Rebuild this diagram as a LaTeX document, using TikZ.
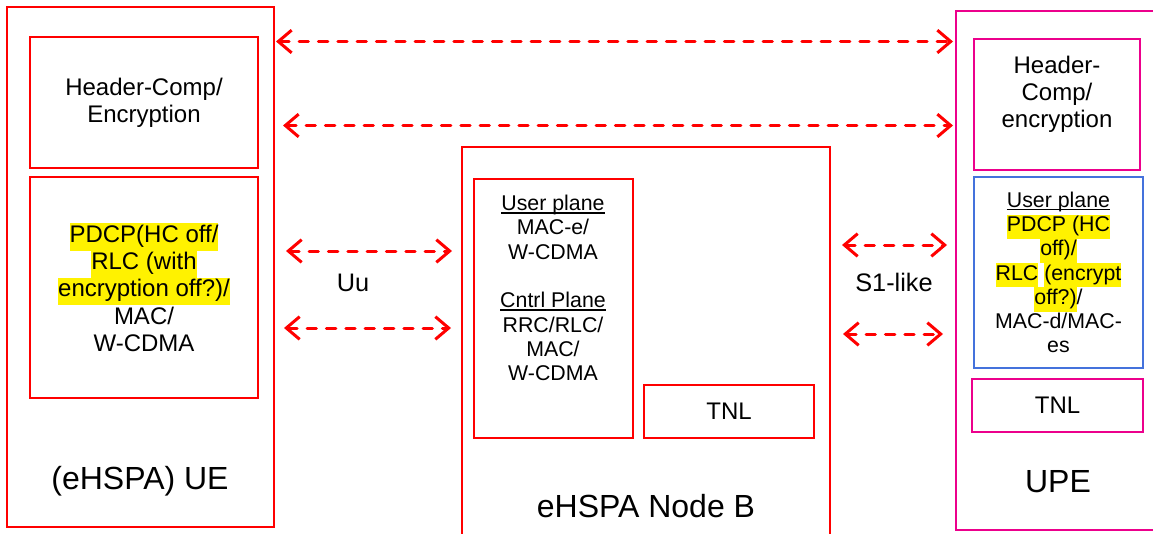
\documentclass[tikz,border=0pt]{standalone}
\usepackage{fontspec}
\setmainfont{Liberation Sans}
\usepackage{tikz}
\usetikzlibrary{arrows.meta}
\usepackage{xcolor}
\definecolor{upeblue}{RGB}{68,114,220}
\newcommand{\px}{0.75pt}
\newcommand{\hl}[1]{{\setlength{\fboxsep}{0pt}\colorbox{yellow}{\strut #1}}}
\newcommand{\undl}[1]{\setbox0\hbox{#1}\rlap{\rule[-2.2pt]{\wd0}{1pt}}\box0}
\tikzstyle{box}=[draw=red, line width=1.5pt, inner sep=0pt, outer sep=0pt, anchor=north west]
\tikzstyle{txt}=[align=center, font=\fontsize{18}{20.4}\selectfont]
\tikzstyle{smalltxt}=[align=center, font=\fontsize{16}{18.2}\selectfont]
\tikzstyle{bigtxt}=[font=\fontsize{24}{28}\selectfont]
\tikzstyle{iftxt}=[font=\fontsize{19}{22}\selectfont]
\tikzstyle{link}=[red, line width=2.25pt, line cap=round, dash pattern=on 7pt off 7.5pt, >={Straight Barb[length=10pt,width=17pt]}, <->]

\begin{document}
\begin{tikzpicture}[x=\px, y=-\px]
\path[use as bounding box, clip] (0,0) rectangle (1153,533);

\node[box, minimum width=267*\px, minimum height=520*\px] (ue) at (7,7) {};
\node[box, minimum width=368*\px, minimum height=420*\px] (nodeb) at (462,147) {};
\node[box, draw=magenta, minimum width=230*\px, minimum height=519*\px] (upe) at (956,11) {};

\node[box, txt, minimum width=228*\px, minimum height=131*\px] (uehc) at (30,37) {Header-Comp/\\Encryption};
\node[box, txt, minimum width=228*\px, minimum height=221*\px] (uepdcp) at (30,177)
  {\hl{PDCP(HC off/}\\\hl{RLC (with}\\\hl{encryption off?)/}\\MAC/\\W-CDMA};
\node[bigtxt, anchor=base] (uelbl) at (140,489) {(eHSPA) UE};

\node[box, minimum width=159*\px, minimum height=259*\px] (nbplane) at (474,179) {};
\node[smalltxt] (nbplanetxt) at (553,288)
  {\undl{User plane}\\MAC-e/\\W-CDMA\\[18.2pt]\undl{Cntrl Plane}\\RRC/RLC/\\MAC/\\W-CDMA};
\node[box, txt, minimum width=170*\px, minimum height=53*\px] (nbtnl) at (644,385) {TNL};
\node[bigtxt, anchor=base] (nblbl) at (646,517) {eHSPA Node B};

\node[box, draw=magenta, minimum width=166*\px, minimum height=131*\px] (upehc) at (974,39) {};
\node[txt] (upehctxt) at (1057,94) {Header-\\Comp/\\encryption};
\node[box, draw=upeblue, smalltxt, minimum width=169*\px, minimum height=191*\px] (upeplane) at (974,177)
  {\undl{User plane}\\\hl{PDCP (HC}\\\hl{off)/}\\\hl{RLC} \hl{(encrypt}\\\hl{off?)}/\\MAC-d/MAC-\\es};
\node[box, draw=magenta, txt, minimum width=171*\px, minimum height=53*\px] (upetnl) at (972,379) {TNL};
\node[bigtxt, anchor=base] (upelbl) at (1058,492) {UPE};

\node[iftxt] (uu) at (353,283) {Uu};
\node[iftxt] (s1) at (894,282) {S1-like};

\draw[link, shorten <=1.5pt, shorten >=2.25pt] (ue.east |- 0,41.5) -- (upe.west |- 0,41.5);
\draw[link, shorten <=6.75pt, shorten >=2.25pt] (ue.east |- 0,125.5) -- (upe.west |- 0,125.5);
\draw[link, shorten <=9pt, shorten >=7.5pt] (ue.east |- 0,251) -- (nodeb.west |- 0,251);
\draw[link, shorten <=7.5pt, shorten >=8.25pt] (ue.east |- 0,328) -- (nodeb.west |- 0,328);
\draw[link, shorten <=9pt, shorten >=6.75pt] (nodeb.east |- 0,245) -- (upe.west |- 0,245);
\draw[link, shorten <=9.75pt, shorten >=9.75pt] (nodeb.east |- 0,334) -- (upe.west |- 0,334);
\end{tikzpicture}
\end{document}
